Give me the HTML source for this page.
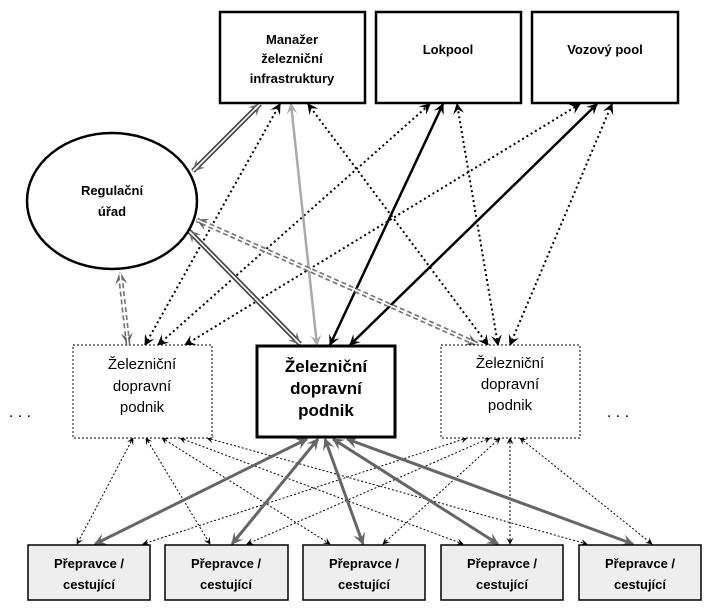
<!DOCTYPE html>
<html><head><meta charset="utf-8"><style>
html,body{margin:0;padding:0;background:#fff}
svg{display:block}
text{font-family:"Liberation Sans",sans-serif;text-anchor:middle}
</style></head><body>
<svg width="706" height="609" viewBox="0 0 706 609" xmlns="http://www.w3.org/2000/svg">
<defs>
<marker id="ak" viewBox="0 0 10 10" refX="9" refY="5" markerWidth="7" markerHeight="7" orient="auto-start-reverse" markerUnits="userSpaceOnUse"><path d="M0,0 L10,5 L0,10 L4,5 z" fill="#000"/></marker>
<marker id="ab" viewBox="0 0 10 10" refX="9" refY="5" markerWidth="11" markerHeight="11" orient="auto-start-reverse" markerUnits="userSpaceOnUse"><path d="M0,0 L10,5 L0,10 L4,5 z" fill="#000"/></marker>
<marker id="ag" viewBox="0 0 10 10" refX="9" refY="5" markerWidth="12" markerHeight="12" orient="auto-start-reverse" markerUnits="userSpaceOnUse"><path d="M0,0 L10,5 L0,10 L4,5 z" fill="#666"/></marker>
<marker id="al" viewBox="0 0 10 10" refX="9" refY="5" markerWidth="11" markerHeight="11" orient="auto-start-reverse" markerUnits="userSpaceOnUse"><path d="M0,0 L10,5 L0,10 L4,5 z" fill="#aaa"/></marker>
</defs>

<!-- top dotted lines -->
<g stroke="#000" stroke-width="2" stroke-dasharray="2,3" fill="none" marker-start="url(#ab)" marker-end="url(#ab)">
<line x1="145" y1="345" x2="280" y2="104"/>
<line x1="158" y1="345" x2="430" y2="104"/>
<line x1="185" y1="345" x2="580" y2="104"/>
<line x1="488" y1="345" x2="308" y2="104"/>
<line x1="498" y1="345" x2="457" y2="104"/>
<line x1="510" y1="345" x2="612" y2="104"/>
</g>
<!-- black solid -->
<g stroke="#000" stroke-width="2.5" marker-start="url(#ab)" marker-end="url(#ab)">
<line x1="330" y1="345" x2="443" y2="104"/>
<line x1="350" y1="345" x2="597" y2="104"/>
</g>
<line x1="317" y1="345" x2="291" y2="104" stroke="#aaa" stroke-width="2.5" marker-start="url(#al)" marker-end="url(#al)"/>
<!-- double lines -->
<g fill="none">
<line x1="260" y1="104" x2="193" y2="171" stroke="#444" stroke-width="5" marker-start="url(#ag)" marker-end="url(#ag)"/>
<line x1="260" y1="104" x2="193" y2="171" stroke="#fff" stroke-width="1.6"/>
<line x1="300" y1="344" x2="189" y2="231" stroke="#444" stroke-width="5" marker-start="url(#ag)" marker-end="url(#ag)"/>
<line x1="300" y1="344" x2="189" y2="231" stroke="#fff" stroke-width="1.6"/>
<line x1="477" y1="344" x2="197" y2="220" stroke="#777" stroke-width="5" stroke-dasharray="5,3" marker-start="url(#ag)" marker-end="url(#ag)"/>
<line x1="477" y1="344" x2="197" y2="220" stroke="#fff" stroke-width="1.6"/>
<line x1="128" y1="344" x2="120" y2="273" stroke="#777" stroke-width="5" stroke-dasharray="5,3" marker-start="url(#ag)" marker-end="url(#ag)"/>
<line x1="128" y1="344" x2="120" y2="273" stroke="#fff" stroke-width="1.6"/>
</g>

<!-- bottom dotted -->
<g stroke="#000" stroke-width="1" stroke-dasharray="2,2" fill="none" marker-start="url(#ak)" marker-end="url(#ak)">
<line x1="133" y1="438" x2="77" y2="544"/>
<line x1="146" y1="438" x2="210" y2="544"/>
<line x1="162" y1="438" x2="330" y2="544"/>
<line x1="180" y1="438" x2="463" y2="544"/>
<line x1="207" y1="438" x2="587" y2="544"/>
<line x1="467" y1="438" x2="143" y2="544"/>
<line x1="490" y1="438" x2="247" y2="544"/>
<line x1="500" y1="438" x2="383" y2="544"/>
<line x1="510" y1="438" x2="510" y2="544"/>
<line x1="520" y1="438" x2="652" y2="544"/>
</g>
<!-- bottom gray thick -->
<g stroke="#666" stroke-width="3" marker-start="url(#ag)" marker-end="url(#ag)">
<line x1="307" y1="439" x2="95" y2="544"/>
<line x1="318" y1="439" x2="232" y2="544"/>
<line x1="325" y1="439" x2="363" y2="544"/>
<line x1="333" y1="439" x2="498" y2="544"/>
<line x1="347" y1="439" x2="633" y2="544"/>
</g>

<!-- top boxes -->
<g fill="#fff" stroke="#000" stroke-width="2.5">
<rect x="220" y="12" width="145" height="91"/>
<rect x="376" y="12" width="145" height="91"/>
<rect x="532" y="12" width="146" height="91"/>
<ellipse cx="112" cy="201" rx="85" ry="68"/>
</g>
<g font-size="13" font-weight="bold">
<text x="292" y="44">Manažer</text>
<text x="292" y="63">železniční</text>
<text x="292" y="83">infrastruktury</text>
<text x="448" y="54">Lokpool</text>
<text x="605" y="54">Vozový pool</text>
<text x="112" y="195">Regulační</text>
<text x="112" y="216">úřad</text>
</g>

<!-- middle boxes -->
<rect x="73" y="345" width="139" height="93" fill="#fff" stroke="#000" stroke-width="1" stroke-dasharray="2,2"/>
<rect x="441" y="345" width="139" height="93" fill="#fff" stroke="#000" stroke-width="1" stroke-dasharray="2,2"/>
<rect x="257" y="346" width="138" height="91" fill="#fff" stroke="#000" stroke-width="3"/>
<g font-size="15">
<text x="142" y="369">Železniční</text>
<text x="142" y="391">dopravní</text>
<text x="142" y="412">podnik</text>
<text x="510" y="368">Železniční</text>
<text x="510" y="389">dopravní</text>
<text x="510" y="410">podnik</text>
</g>
<g font-size="17" font-weight="bold">
<text x="326" y="372">Železniční</text>
<text x="326" y="394">dopravní</text>
<text x="326" y="416">podnik</text>
</g>
<text x="20" y="417" font-size="16">. . .</text>
<text x="618" y="417" font-size="16">. . .</text>

<!-- bottom boxes -->
<g fill="#eee" stroke="#000" stroke-width="1.5">
<rect x="28" y="545" width="122" height="55"/>
<rect x="165" y="545" width="123" height="55"/>
<rect x="303" y="545" width="122" height="55"/>
<rect x="441" y="545" width="122" height="55"/>
<rect x="579" y="545" width="122" height="55"/>
</g>
<g font-size="13" font-weight="bold">
<text x="89" y="568">Přepravce /</text><text x="89" y="589">cestující</text>
<text x="226" y="568">Přepravce /</text><text x="226" y="589">cestující</text>
<text x="364" y="568">Přepravce /</text><text x="364" y="589">cestující</text>
<text x="502" y="568">Přepravce /</text><text x="502" y="589">cestující</text>
<text x="640" y="568">Přepravce /</text><text x="640" y="589">cestující</text>
</g>
</svg>
</body></html>
